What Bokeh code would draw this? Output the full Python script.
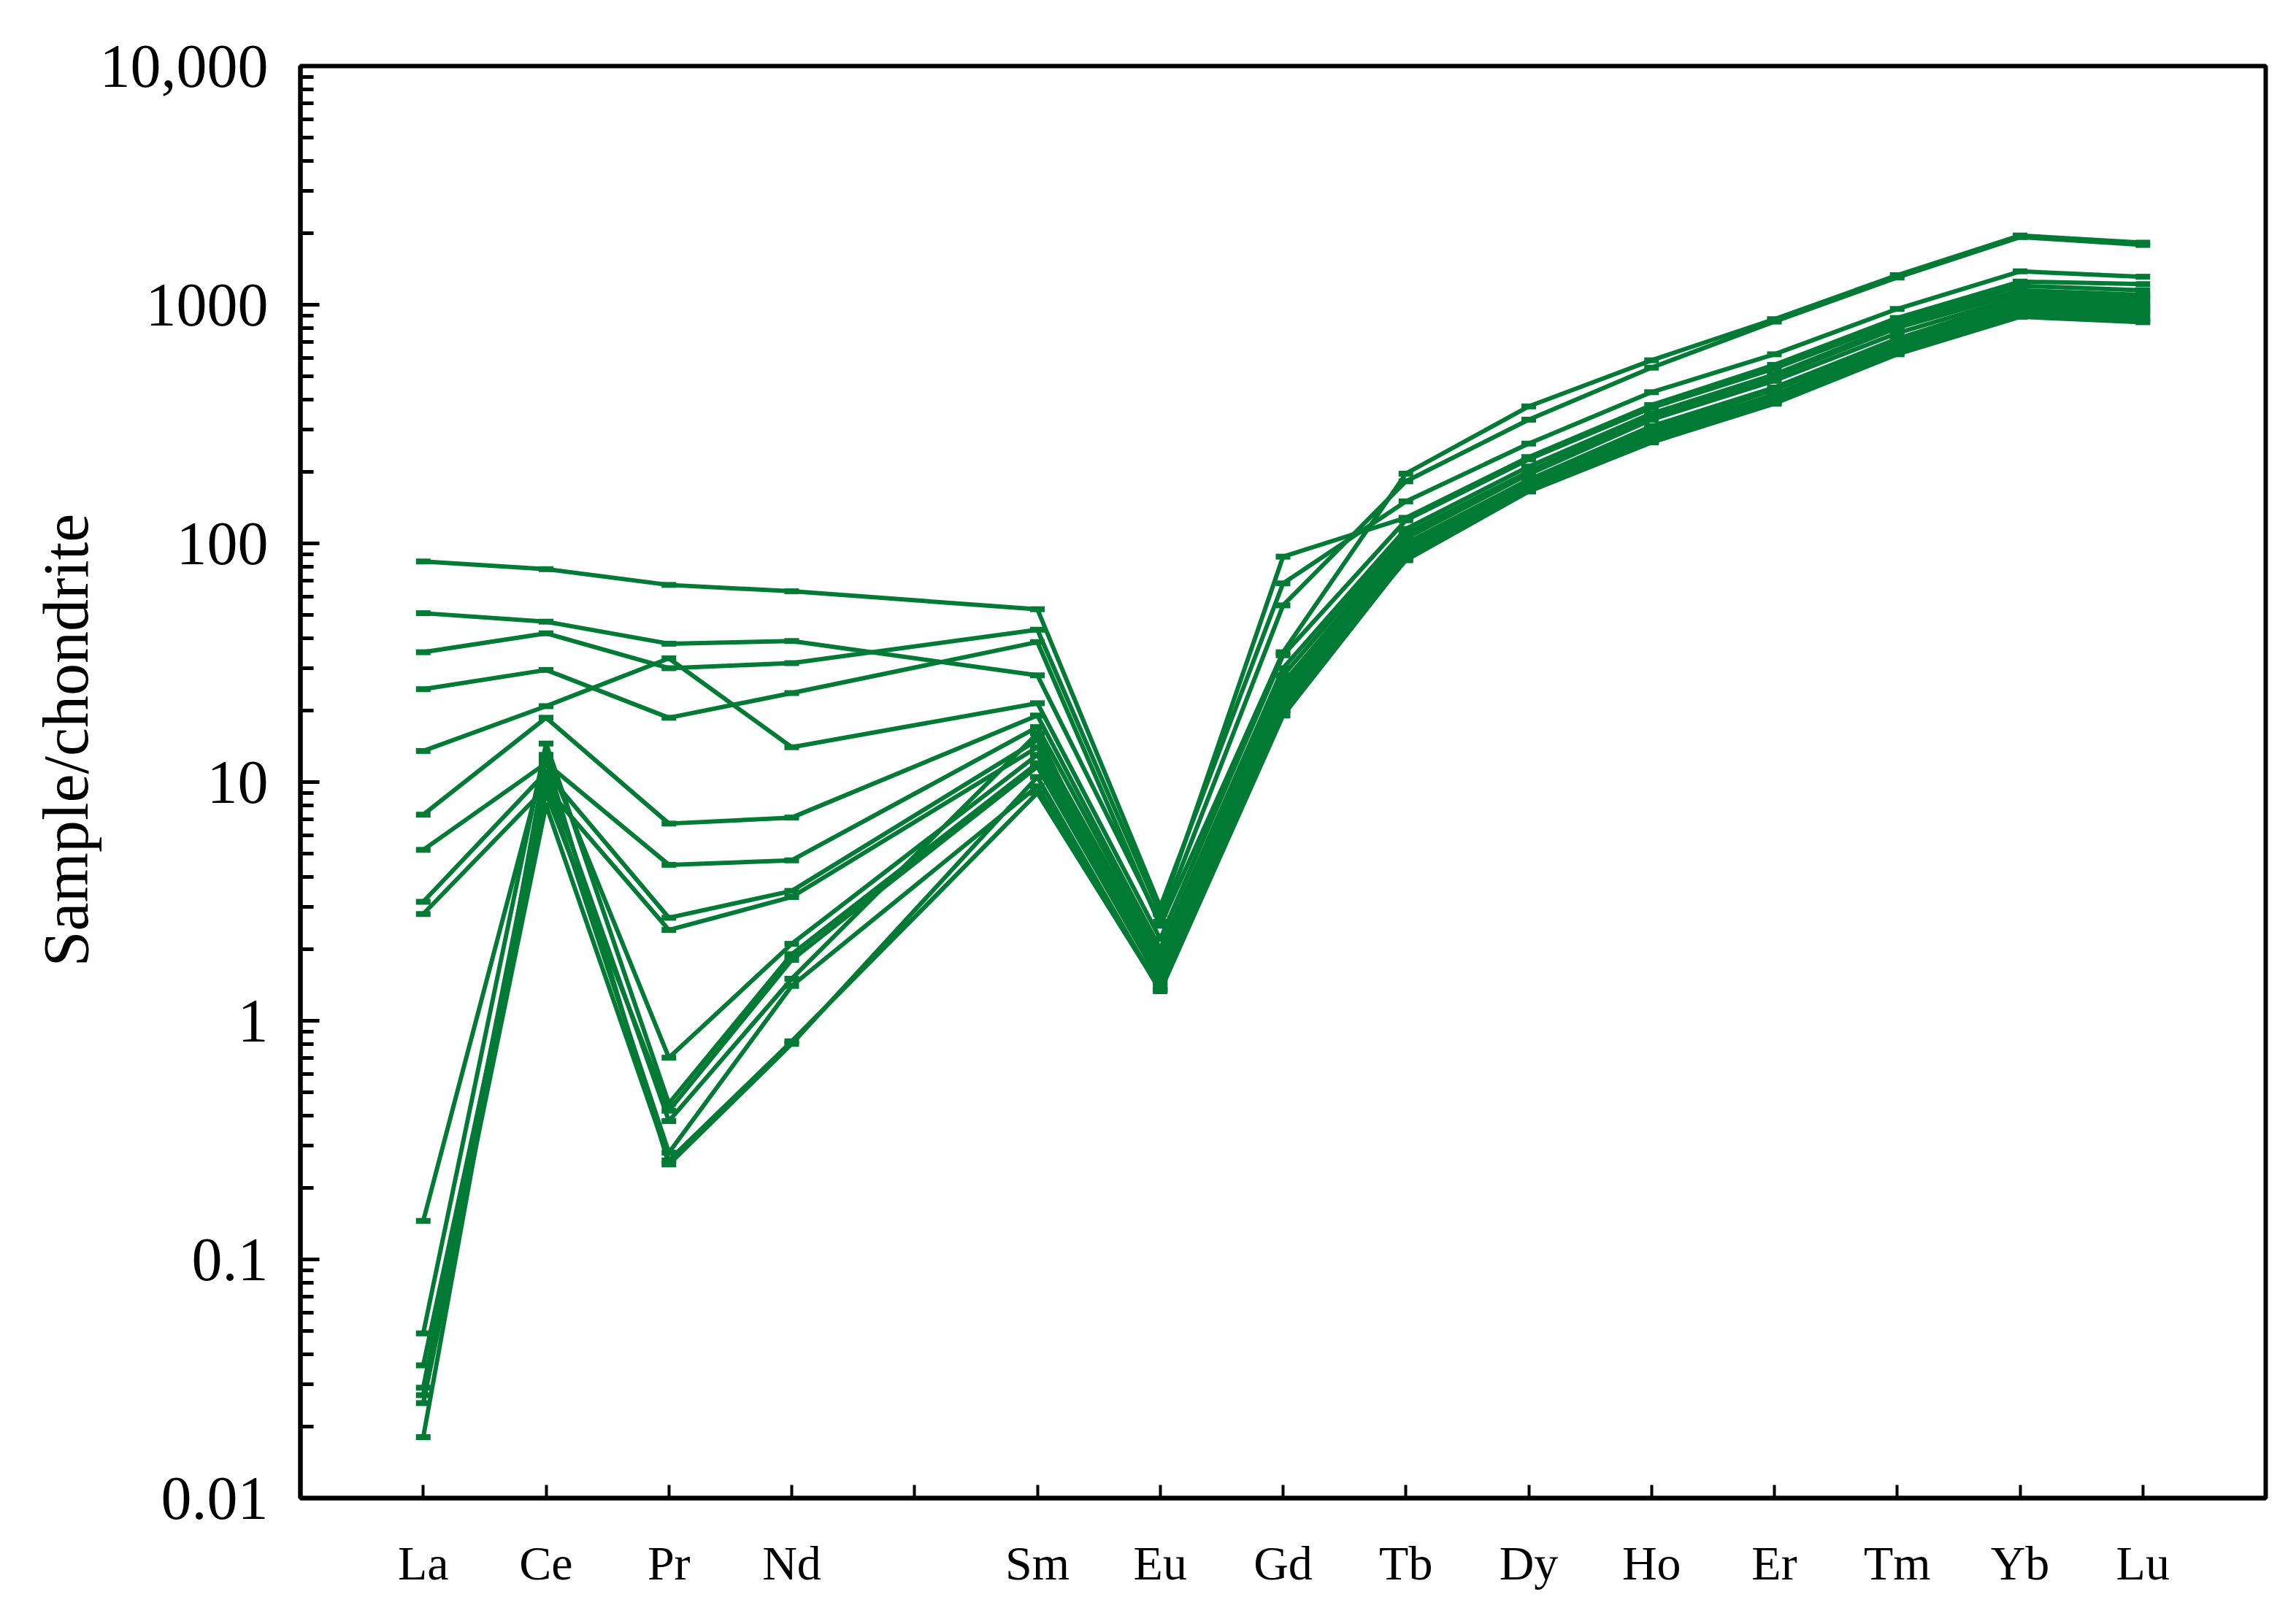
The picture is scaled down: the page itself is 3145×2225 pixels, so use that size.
from bokeh.plotting import figure
from bokeh.models import FixedTicker, Range1d, CustomJSTickFormatter, Title
from bokeh.embed import file_html
from bokeh.resources import INLINE

# ---- data (chondrite-normalised REE) ----
elements = ["La", "Ce", "Pr", "Nd", "Pm", "Sm", "Eu", "Gd", "Tb", "Dy", "Ho", "Er", "Tm", "Yb", "Lu"]
x_labels = ["La", "Ce", "Pr", "Nd", "", "Sm", "Eu", "Gd", "Tb", "Dy", "Ho", "Er", "Tm", "Yb", "Lu"]

y_ticks = [0.01, 0.1, 1, 10, 100, 1000, 10000]
y_labels = ["0.01", "0.1", "1", "10", "100", "1000", "10,000"]
y_title = "Sample/chondrite"

s01 = [84, 78, 67, 63, None, 53, 3.0, 68, 150, 262, 430, 620, 960, 1380, 1310]
s02 = [51, 47, 38, 39, None, 28, 2.6, 55, 182, 330, 545, 850, 1300, 1920, 1780]
s03 = [35, 42, 30, 31.5, None, 43.5, 2.8, 88, 128, 230, 380, 560, 880, 1250, 1220]
s04 = [24.5, 29.5, 18.6, 23.6, None, 38.6, 2.5, 35, 196, 375, 585, 870, 1330, 1950, 1820]
s05 = [13.5, 20.8, 33, 14, None, 21.4, 2.2, 34, 125, 225, 370, 540, 850, 1200, 1150]
s06 = [7.3, 18.6, 6.7, 7.1, None, 19, 2.0, 30, 115, 210, 350, 510, 820, 1150, 1100]
s07 = [5.2, 12, 4.5, 4.7, None, 17, 1.9, 28, 110, 200, 340, 500, 800, 1120, 1080]
s08 = [3.15, 11, 2.7, 3.5, None, 15, 1.8, 26, 105, 195, 330, 480, 760, 1080, 1050]
s09 = [2.8, 9.5, 2.4, 3.3, None, 14, 1.7, 25, 100, 185, 310, 450, 720, 1050, 1010]
s10 = [0.145, 13, 0.70, 2.1, None, 13, 1.6, 24, 95, 175, 290, 420, 680, 980, 930]
s11 = [0.049, 14.5, 0.45, 1.9, None, 12, 1.5, 23, 90, 170, 280, 405, 660, 950, 900]
s12 = [0.036, 9, 0.42, 1.8, None, 11.6, 1.45, 22, 88, 168, 270, 395, 640, 920, 870]
s13 = [0.029, 11, 0.38, 1.5, None, 16, 1.4, 21, 85, 165, 265, 385, 620, 890, 845]
s14 = [0.027, 10, 0.28, 1.4, None, 9.6, 1.35, 20, 98, 180, 300, 440, 700, 1020, 980]
s15 = [0.025, 8, 0.26, 0.82, None, 9.0, 1.35, 20, 92, 172, 285, 415, 670, 1000, 950]
s16 = [0.018, 12.5, 0.25, 0.80, None, 10.5, 1.33, 19, 86, 166, 268, 390, 630, 900, 850]

series = [s01, s02, s03, s04, s05, s06, s07, s08, s09, s10, s11, s12, s13, s14, s15, s16]

GREEN = "#007A35"
FONT = "Liberation Serif"

p = figure(frame_width=2692, frame_height=1962,
           x_range=Range1d(0, len(elements) + 1),
           y_range=Range1d(0.01, 10000), y_axis_type="log",
           output_backend="svg", toolbar_location=None,
           min_border_left=411, min_border_right=26,
           min_border_top=90, min_border_bottom=157)

p.xgrid.visible = False
p.ygrid.visible = False
p.outline_line_color = "black"
p.outline_line_width = 6
p.background_fill_color = "white"
p.border_fill_color = "white"

for s in series:
    xs = [i + 1 for i, v in enumerate(s) if v is not None]
    ys = [v for v in s if v is not None]
    p.line(xs, ys, line_color=GREEN, line_width=6)
    p.scatter(xs, ys, marker="dash", size=20, line_color=GREEN, line_width=8)

# x axis
xa = p.xaxis[0]
xa.ticker = FixedTicker(ticks=list(range(1, len(elements) + 1)), minor_ticks=[])
xa.major_label_overrides = {i + 1: lab for i, lab in enumerate(x_labels)}
xa.major_tick_in = 18
xa.major_tick_out = 0
xa.major_tick_line_width = 4
xa.major_tick_line_color = "black"
xa.minor_tick_line_color = None
xa.axis_line_width = 6
xa.axis_line_color = "black"
xa.major_label_text_font = FONT
xa.major_label_text_font_size = "66px"
xa.major_label_text_color = "black"
xa.major_label_standoff = 52

# y axis
minor = []
for e in range(-2, 4):
    for k in range(2, 10):
        minor.append(k * 10 ** e)
ya = p.yaxis[0]
ya.ticker = FixedTicker(ticks=y_ticks, minor_ticks=minor)
ya.formatter = CustomJSTickFormatter(args=dict(vals=y_ticks, labs=y_labels), code="""
let best = 0, d = Infinity;
for (let i = 0; i < vals.length; i++) {
  const e = Math.abs(Math.log10(tick) - Math.log10(vals[i]));
  if (e < d) { d = e; best = i; }
}
return labs[best];
""")
ya.major_tick_in = 26
ya.major_tick_out = 0
ya.minor_tick_in = 18
ya.minor_tick_out = 0
ya.major_tick_line_width = 5
ya.minor_tick_line_width = 5
ya.major_tick_line_color = "black"
ya.minor_tick_line_color = "black"
ya.axis_line_width = 6
ya.axis_line_color = "black"
ya.major_label_text_font = FONT
ya.major_label_text_font_size = "84px"
ya.major_label_text_color = "black"
ya.major_label_standoff = 44

# y-axis title as a side title (left panel, outside the tick labels)
ytitle = Title(text=y_title, align="left", offset=728, standoff=-10,
               text_font=FONT, text_font_size="88px", text_font_style="normal",
               text_color="black")
p.add_layout(ytitle, "left")

open("out.html", "w").write(file_html(p, INLINE))
